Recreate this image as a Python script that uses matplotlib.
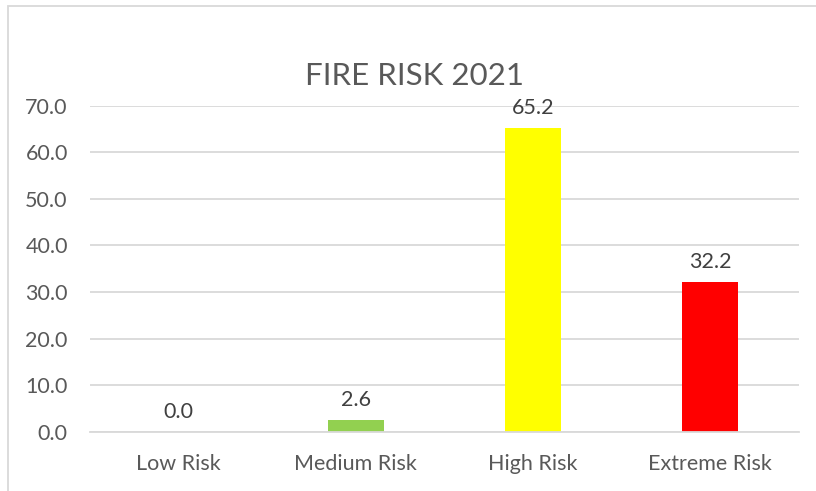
import matplotlib.pyplot as plt
from matplotlib.patches import Rectangle

categories = ['Low Risk', 'Medium Risk', 'High Risk', 'Extreme Risk']
values = [0.0, 2.6, 65.2, 32.2]
bar_colors = ['#4472C4', '#92D050', '#FFFF00', '#FF0000']
yticks = [0, 10, 20, 30, 40, 50, 60, 70]

plt.rcParams['font.family'] = ['Lato', 'DejaVu Sans']

fig = plt.figure(figsize=(8.16, 4.91), dpi=100)
ax = fig.add_axes([90 / 816, 59 / 491, 709 / 816, 326.5 / 491])

x = range(len(categories))
bars = ax.bar(x, values, width=0.316, color=bar_colors, zorder=3)

for xi, v in zip(x, values):
    ax.annotate(f'{v:.1f}', (xi, v), xytext=(0, 7), textcoords='offset points',
                ha='center', va='bottom', fontsize=15.5, color='#404040')

ax.set_xlim(-0.5, len(categories) - 0.5)
ax.set_ylim(0, 70)
ax.set_yticks(yticks)
ax.set_yticklabels([f'{t:.1f}' for t in yticks])
ax.set_xticks(list(x))
ax.set_xticklabels(categories)
ax.tick_params(axis='both', length=0, labelsize=15.5, labelcolor='#595959')
ax.tick_params(axis='y', pad=16)
ax.tick_params(axis='x', pad=16)
ax.grid(axis='y', color='#D9D9D9', linewidth=1.3, zorder=0)
for s in ['top', 'right', 'left']:
    ax.spines[s].set_visible(False)
ax.spines['bottom'].set_color('#D9D9D9')
ax.spines['bottom'].set_linewidth(1.3)
ax.spines['bottom'].set_zorder(4)

fig.text(0.508, 0.845, 'FIRE RISK 2021', ha='center', va='center',
         fontsize=22.5, color='#595959')

# chart border (cropped on the right and bottom)
fig.patches.append(Rectangle((8 / 816, -0.1), 1.0, 1.1 - 6 / 491,
                             transform=fig.transFigure, fill=False,
                             edgecolor='#D9D9D9', linewidth=1.3))

fig.savefig('out.png', dpi=100)
